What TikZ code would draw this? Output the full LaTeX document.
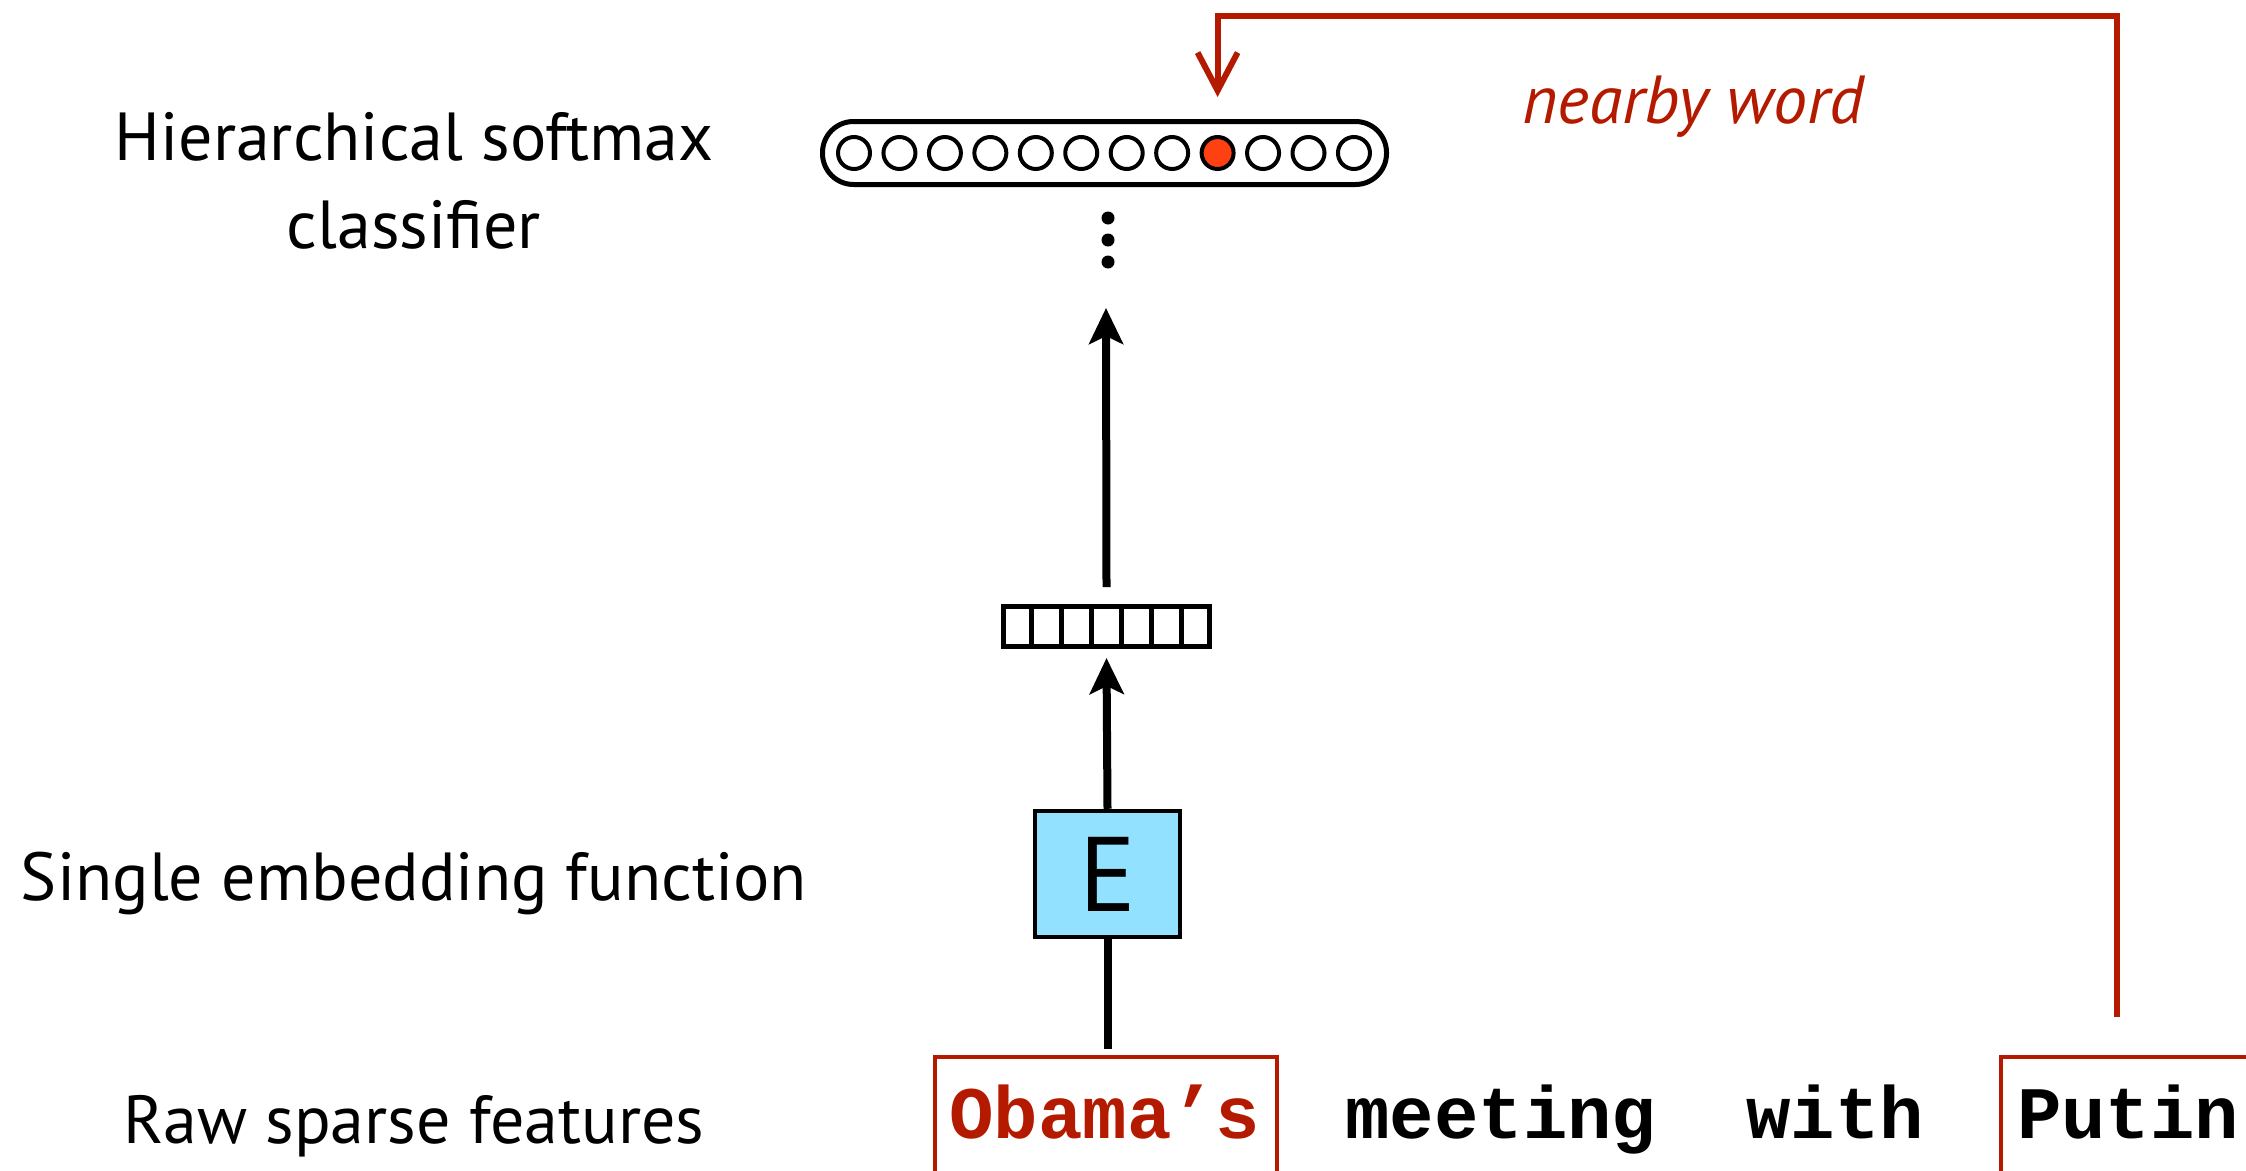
\documentclass[tikz,border=0pt]{standalone}
\usepackage{fontspec}
\setmainfont{PT Sans}
\newfontfamily\wordfont{Liberation Mono}
\usetikzlibrary{arrows.meta,positioning,calc}
\definecolor{nwred}{RGB}{180,26,0}
\definecolor{efill}{RGB}{146,225,254}
\definecolor{hot}{RGB}{255,64,16}

\begin{document}
\begin{tikzpicture}[x=1pt, y=-1pt, line width=8pt,
	lbl/.style={font=\fontsize{68}{88}\selectfont, align=center, anchor=base},
	unit/.style={draw, circle, line width=4pt, minimum size=32pt, inner sep=0pt},
	word/.style={font=\wordfont\bfseries\fontsize{74}{80}\selectfont, anchor=base, inner sep=0pt},
	wbox/.style={draw=nwred, line width=4pt, minimum height=160pt, inner sep=0pt, anchor=north},
	up/.style={-{Stealth[length=36pt, width=34pt, inset=8pt]}},
	back/.style={draw=nwred, line width=6pt, -{Straight Barb[length=38pt, width=40pt]}}]
	\useasboundingbox (0,0) rectangle (2246,1170);
	\clip (0,0) rectangle (2246,1170);
	\node[lbl] (hsl) at (414,248) {Hierarchical softmax\\classifier};
	\node[lbl] (sel) at (414,900) {Single embedding function};
	\node[lbl] (rsl) at (414,1143) {Raw sparse features};
	\node[draw, line width=5pt, rounded corners=31pt, minimum width=564pt, minimum height=63pt] (sm) at (1104.5,153) {};
	\foreach \i in {0,...,7,9,10,11} \node[unit] (u\i) at (854+45.45*\i,153) {};
	\node[unit, fill=hot] (u8) at (854+45.45*8,153) {};
	\foreach \y in {218,240,262} \fill (1108,\y) circle (6.5pt);
	\node[draw, line width=5pt, minimum width=206pt, minimum height=40pt, inner sep=0pt] (vec) at (1106.5,626.5) {};
	\foreach \i in {1,...,6} \draw[line width=5pt] ($(vec.north west)!\i/7!(vec.north east)$) -- ($(vec.south west)!\i/7!(vec.south east)$);
	\node[draw, fill=efill, line width=4.5pt, minimum width=145pt, minimum height=126pt, font=\fontsize{106}{110}\selectfont] (E) at (1107.5,874) {E};
	\coordinate (top) at (1106,308);
	\draw[up] ([yshift=17pt]vec.north) -- (top);
	\draw[up] (E.north) -- ([yshift=-9pt]vec.south);
	\node[word, text=nwred] (w1) at (1105,1138) {Obama’s};
	\node[word] (w2) at (1501,1138) {meeting};
	\node[word] (w3) at (1835,1138) {with};
	\node[word] (w4) at (2128,1138) {Putin};
	\node[wbox, minimum width=342pt] (b1) at (1106,1055) {};
	\node[wbox, minimum width=300pt, anchor=north west] (b4) at (1999,1055) {};
	\draw[shorten >=6pt] (E.south) -- (E.south |- b1.north);
	\coordinate (pfrom) at (2117,1017);
	\draw[back] (pfrom) |- ([yshift=119pt]u8.north) -- ([yshift=38pt]u8.north);
	\node[font=\itshape\fontsize{68}{70}\selectfont, text=nwred, anchor=base] (nw) at (1693,123) {nearby word};
\end{tikzpicture}
\end{document}
